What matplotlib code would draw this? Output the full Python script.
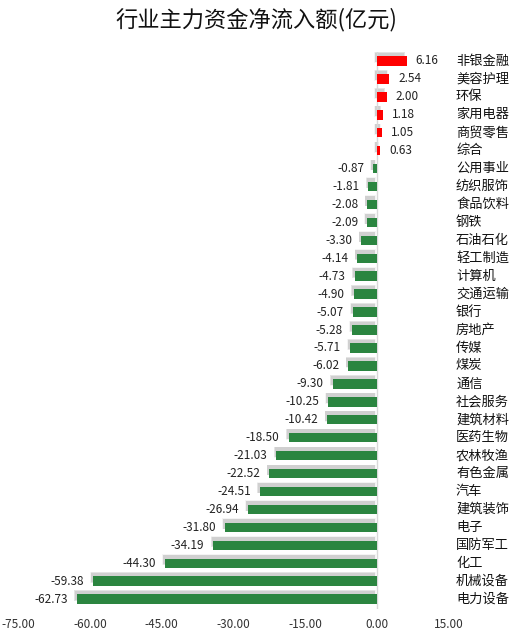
import numpy as np
import matplotlib
matplotlib.use("Agg")
import matplotlib.pyplot as plt
from matplotlib.ticker import FormatStrFormatter

plt.rcParams['font.family'] = ['Noto Sans CJK SC', 'DejaVu Sans']

industries = ["非银金融", "美容护理", "环保", "家用电器", "商贸零售", "综合",
              "公用事业", "纺织服饰", "食品饮料", "钢铁", "石油石化", "轻工制造",
              "计算机", "交通运输", "银行", "房地产", "传媒", "煤炭", "通信",
              "社会服务", "建筑材料", "医药生物", "农林牧渔", "有色金属", "汽车",
              "建筑装饰", "电子", "国防军工", "化工", "机械设备", "电力设备"]
net_inflow = [6.16, 2.54, 2.00, 1.18, 1.05, 0.63,
              -0.87, -1.81, -2.08, -2.09, -3.30, -4.14,
              -4.73, -4.90, -5.07, -5.28, -5.71, -6.02, -9.30,
              -10.25, -10.42, -18.50, -21.03, -22.52, -24.51,
              -26.94, -31.80, -34.19, -44.30, -59.38, -62.73]
x_ticks = [-75, -60, -45, -30, -15, 0, 15]

fig = plt.figure(figsize=(5.11, 6.34), dpi=100)
ax = fig.add_axes([18/511, 25/634, 431/511, 557/634])

y = np.arange(len(industries))
vals = np.array(net_inflow)
colors = ["#ff0000" if v > 0 else "#2b8540" for v in vals]
h = 0.53

# soft shadow, shifted up-left of each bar
lo = np.minimum(vals, 0) - 0.4
hi = np.maximum(vals, 0) - 0.5
for grow, a in [(0.08, 0.06), (0.04, 0.09), (0.0, 0.12)]:
    ax.barh(y - 0.2, (hi - lo) + grow * 4, left=lo - grow * 2,
            height=h + grow, color="#444444", alpha=a, linewidth=0, zorder=1)
ax.barh(y, vals, height=h, color=colors, linewidth=0, zorder=3)

for yi, v in zip(y, vals):
    if v >= 0:
        ax.annotate(f"{v:.2f}", (v, yi), xytext=(6.5, 0), textcoords="offset points",
                    ha="left", va="center", fontsize=8.5, color="#222222")
    else:
        ax.annotate(f"{v:.2f}", (v, yi), xytext=(-6.5, 0), textcoords="offset points",
                    ha="right", va="center", fontsize=8.5, color="#222222")

trans = matplotlib.transforms.blended_transform_factory(fig.transFigure, ax.transData)
for yi, name in zip(y, industries):
    ax.text(456/511, yi, name, transform=trans, ha="left", va="center",
            fontsize=9.5, color="#111111", clip_on=False)

ax.axvline(0, color="#d9d9d9", linewidth=1, zorder=2)
ax.set_xlim(-75, 15)
ax.set_ylim(len(industries) - 1 + 0.55, -0.5)
ax.set_xticks(x_ticks)
ax.xaxis.set_major_formatter(FormatStrFormatter("%.2f"))
ax.tick_params(axis="x", length=0, pad=6.5, labelsize=8.5, labelcolor="#333333")
ax.set_yticks([])
for s in ax.spines.values():
    s.set_visible(False)

fig.text(256/511, 1 - 20/634, "行业主力资金净流入额(亿元)", ha="center", va="center",
         fontsize=16, color="#111111")

fig.savefig("out.png", dpi=100)
